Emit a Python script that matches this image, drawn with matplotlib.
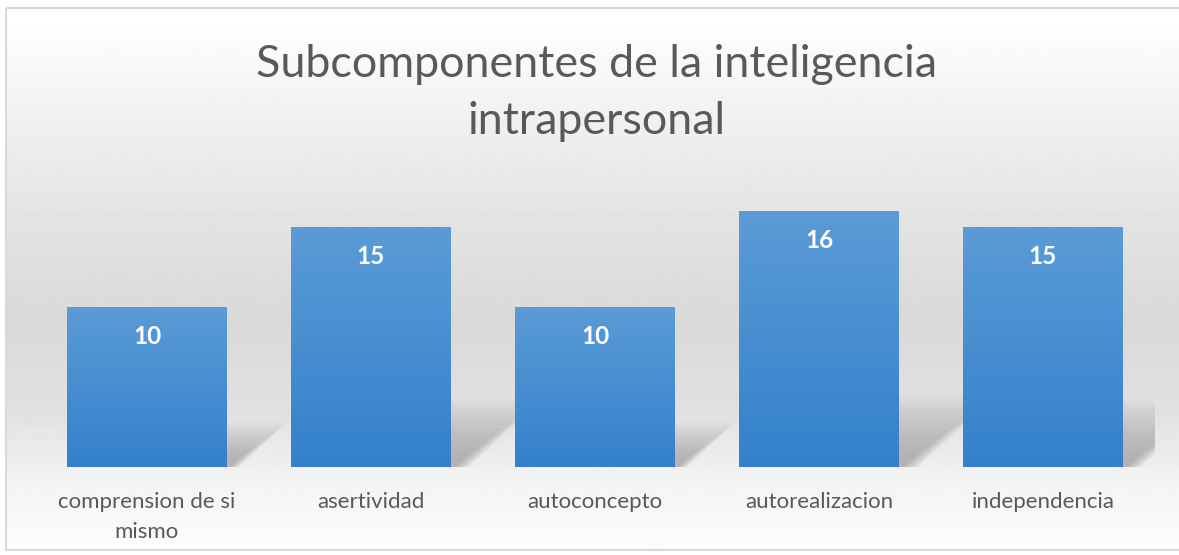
import numpy as np
import matplotlib.pyplot as plt
from matplotlib.patches import Polygon, Rectangle
from matplotlib.colors import LinearSegmentedColormap

categories = ["comprension de si\nmismo", "asertividad", "autoconcepto",
              "autorealizacion", "independencia"]
values = [10, 15, 10, 16, 15]
title = "Subcomponentes de la inteligencia\nintrapersonal"

W, H = 1179, 555
plt.rcParams['font.family'] = ['Lato', 'DejaVu Sans']
fig = plt.figure(figsize=(W / 100, H / 100), dpi=100)

# background gradient in pixel coordinates
bg = fig.add_axes([0, 0, 1, 1])
bg.axis('off')
ys = np.array([8, 200, 320, 420, 480, 550])
gs = np.array([255, 229, 217, 226, 243, 252]) / 255
col = np.interp(np.arange(0, H), ys, gs)
img = np.repeat(col[:, None], 2, axis=1)
bg.imshow(img, cmap='gray', vmin=0, vmax=1, extent=(6, W, 550, 8),
          aspect='auto', interpolation='bilinear')
bg.add_patch(Rectangle((6, 8), W, 542, fill=False, edgecolor='#d9d9d9', lw=1.5))
bg.set_xlim(0, W)
bg.set_ylim(H, 0)

fig.text(596 / W, 1 - 93 / H, title, ha='center', va='center',
         fontsize=32.3, color='#595959', linespacing=1.5)

# main plot area
ax = fig.add_axes([35 / W, (H - 467) / H, 1120 / W, 288 / H])
ax.patch.set_alpha(0)
for s in ax.spines.values():
    s.set_visible(False)
ax.set_yticks([])
x = np.arange(len(values))
bars = ax.bar(x, values, width=0.714, color='none', zorder=3)

# soft shadows
for b, v in zip(bars, values):
    xr = b.get_x() + b.get_width()
    hs = 0.28 * v
    dx = 0.027 * v
    for k in range(14):
        f = 1 - k * 0.06
        poly = Polygon([(xr, 0), (xr, hs * f), (xr + dx * f, hs * f),
                        (xr + 0.2 * dx * f, 0)], closed=True,
                       facecolor='#7a7a7a', edgecolor='none', alpha=0.045, zorder=1)
        ax.add_patch(poly)

# gradient bars
cmap = LinearSegmentedColormap.from_list('b', ['#3381cb', '#5b9bd6'])
grad = np.linspace(0, 1, 256)[:, None]
for b, v in zip(bars, values):
    x0 = b.get_x()
    im = ax.imshow(grad, cmap=cmap, origin='lower', aspect='auto',
                   extent=(x0, x0 + b.get_width(), 0, v), zorder=3)
    im.set_clip_path(b)
    ax.text(x0 + b.get_width() / 2, v - 1.85, str(v), ha='center', va='center',
            color='white', fontsize=17.5, fontweight='bold', zorder=4)

ax.set_xlim(-0.5, 4.5)
ax.set_ylim(0, 18)
ax.set_xticks(x)
ax.set_xticklabels(categories, fontsize=16, color='#595959', linespacing=1.6,
                   va='top')
ax.tick_params(axis='x', length=0, pad=18)

fig.savefig('out.png', dpi=100)
